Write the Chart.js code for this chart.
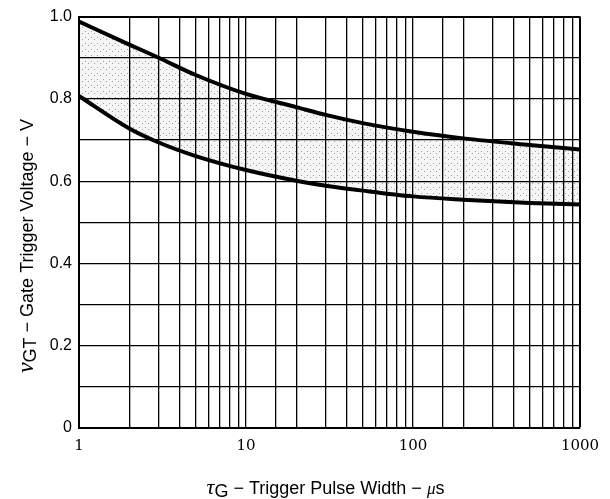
<!DOCTYPE html>
<html>
<head>
<meta charset="utf-8">
<script src="https://cdn.jsdelivr.net/npm/chart.js@4"></script>
<style>
  body { margin: 0; background: #fff; }
  canvas { display: block; }
</style>
</head>
<body>
<canvas id="myChart" width="610" height="499"></canvas>
<script>
// pulse width (us) and gate trigger voltage (V)
const pulseWidth = [1, 2, 3, 5, 10, 20, 30, 50, 100, 200, 500, 1000];
const upperVolts = [0.988, 0.932, 0.900, 0.858, 0.812, 0.780, 0.761, 0.741, 0.720, 0.704, 0.688, 0.677];
const lowerVolts = [0.807, 0.728, 0.694, 0.661, 0.627, 0.601, 0.589, 0.577, 0.563, 0.555, 0.547, 0.543];
const xLabels = [1, 10, 100, 1000];
const yLabels = [0, 0.2, 0.4, 0.6, 0.8, 1.0];

const toPoints = (vals) => pulseWidth.map((x, i) => ({ x: x, y: vals[i] }));

// stippled fill between the two curves
function stipple() {
  const c = document.createElement('canvas');
  c.width = 6;
  c.height = 6;
  const g = c.getContext('2d');
  g.fillStyle = 'rgba(0,0,0,0.04)';
  g.fillRect(0, 0, 6, 6);
  g.fillStyle = 'rgba(0,0,0,0.35)';
  g.fillRect(1, 1, 1, 1);
  g.fillRect(4, 3, 1, 1);
  return g.createPattern(c, 'repeat');
}

// axis titles drawn by hand so the greek letters can be italic
const axisTitles = {
  id: 'axisTitles',
  afterDraw(chart) {
    const ctx = chart.ctx;
    const area = chart.chartArea;
    const sans = '"Liberation Sans", Arial, sans-serif';
    const serif = '"Liberation Serif", "Times New Roman", serif';

    function drawParts(parts, cx, cy) {
      let total = 0;
      parts.forEach(p => { ctx.font = p.font; total += ctx.measureText(p.text).width; });
      let x = cx - total / 2;
      parts.forEach(p => {
        ctx.font = p.font;
        ctx.fillText(p.text, x, cy + (p.dy || 0));
        x += ctx.measureText(p.text).width;
      });
    }

    ctx.save();
    ctx.fillStyle = '#000';
    ctx.textBaseline = 'alphabetic';
    ctx.textAlign = 'left';

    // X TITLE
    drawParts([
      { text: 'τ', font: 'italic 22px ' + serif },
      { text: 'G', font: '18px ' + sans, dy: 3 },
      { text: ' − Trigger Pulse Width − ', font: '18px ' + sans },
      { text: 'μ', font: 'italic 17px ' + serif },
      { text: 's', font: '18px ' + sans }
    ], (area.left + area.right) / 2 - 4, 494);

    // Y TITLE
    ctx.translate(33, 246);
    ctx.rotate(-Math.PI / 2);
    drawParts([
      { text: 'ν', font: 'italic 24px ' + serif },
      { text: 'GT', font: '18px ' + sans, dy: 3 },
      { text: ' − Gate Trigger Voltage − V', font: '18px ' + sans }
    ], 0, 0);
    ctx.restore();
  }
};

const ctx = document.getElementById('myChart');
new Chart(ctx, {
  type: 'line',
  data: {
    datasets: [{
      label: 'upper',
      data: toPoints(upperVolts),
      borderColor: '#000',
      borderWidth: 4,
      pointRadius: 0,
      cubicInterpolationMode: 'monotone',
      fill: '+1',
      backgroundColor: stipple()
    }, {
      label: 'lower',
      data: toPoints(lowerVolts),
      borderColor: '#000',
      borderWidth: 4,
      pointRadius: 0,
      cubicInterpolationMode: 'monotone',
      fill: false
    }]
  },
  options: {
    responsive: false,
    animation: false,
    layout: { padding: { left: 0, right: 30, top: 10, bottom: 0 } },
    plugins: {
      legend: { display: false },
      tooltip: { enabled: false }
    },
    scales: {
      x: {
        type: 'logarithmic',
        min: 1,
        max: 1000,
        afterFit: (s) => { s.height = 71; },
        border: { display: true, color: '#000', width: 2 },
        grid: {
          color: '#000',
          lineWidth: (c) => (c.tick && c.tick.value === 1000 ? 2 : 1.3),
          drawTicks: false
        },
        ticks: {
          autoSkip: false,
          maxRotation: 0,
          padding: 9,
          color: '#000',
          font: { family: '"DejaVu Serif", serif', size: 15 },
          callback: (v) => (xLabels.includes(v) ? String(v) : '')
        }
      },
      y: {
        min: 0,
        max: 1,
        afterFit: (s) => { s.width = 79; },
        border: { display: true, color: '#000', width: 2 },
        grid: {
          color: '#000',
          lineWidth: (c) => (c.tick && Math.abs(c.tick.value - 1) < 1e-6 ? 2 : 1.3),
          drawTicks: false
        },
        ticks: {
          stepSize: 0.1,
          padding: 7,
          color: '#000',
          font: { family: '"Liberation Sans", Arial, sans-serif', size: 16 },
          callback: (v) => {
            const r = Math.round(v * 10) / 10;
            if (!yLabels.includes(r)) return '';
            return r === 0 ? '0' : r.toFixed(1);
          }
        }
      }
    }
  },
  plugins: [axisTitles]
});
</script>
</body>
</html>
